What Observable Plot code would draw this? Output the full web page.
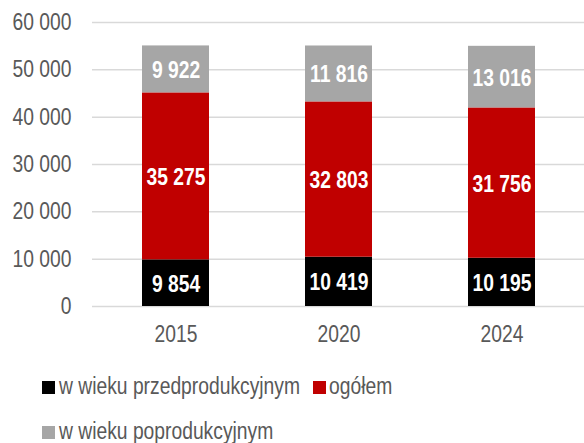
<!DOCTYPE html>
<html>
<head>
<meta charset="utf-8">
<script src="https://cdn.jsdelivr.net/npm/d3@7"></script>
<script src="https://cdn.jsdelivr.net/npm/@observablehq/plot@0.6"></script>
<style>
  html, body { margin: 0; padding: 0; background: #fff; }
  body { width: 584px; height: 443px; overflow: hidden; font-family: "Liberation Sans", Arial, sans-serif; }
  #legend { position: relative; height: 88px; color: #595959; font-size: 23.5px; }
  .sw { position: absolute; width: 13px; height: 13px; }
  .lt { position: absolute; white-space: nowrap; transform: scaleX(0.82); transform-origin: 0 50%; line-height: 1; }
</style>
</head>
<body>
<div id="chart"></div>
<div id="legend"></div>
<script>
const years = ["2015", "2020", "2024"];
const seriesNames = ["w wieku przedprodukcyjnym", "ogółem", "w wieku poprodukcyjnym"];
const przed = [9854, 10419, 10195];
const ogolem = [35275, 32803, 31756];
const popro = [9922, 11816, 13016];
const colors = ["#000000", "#c00000", "#a6a6a6"];
const yTicks = [0, 10000, 20000, 30000, 40000, 50000, 60000];

const seriesValues = [przed, ogolem, popro];
const data = [];
seriesNames.forEach((s, si) => years.forEach((y, yi) => data.push({year: y, series: s, order: si, value: seriesValues[si][yi]})));

const fmt = d3.formatLocale({decimal: ",", thousands: " ", grouping: [3], currency: ["", ""]}).format(",d");
const font = '"Liberation Sans", Arial, sans-serif';

const chart = Plot.plot({
  width: 584,
  height: 355,
  marginTop: 22,
  marginBottom: 49,
  marginLeft: 92,
  marginRight: 0,
  style: {fontFamily: font, fontSize: "23.5px", color: "#595959", background: "#fff"},
  x: {domain: years, paddingInner: 0.59, paddingOuter: 0.3, align: 0.5, label: null, tickSize: 0, tickPadding: 19},
  y: {domain: [0, 60000], ticks: yTicks, tickFormat: fmt, label: null, tickSize: 0, tickPadding: 21},
  color: {domain: seriesNames, range: colors},
  marks: [
    Plot.ruleY(yTicks, {stroke: "#d9d9d9", strokeWidth: 1.5}),
    Plot.barY(data, Plot.stackY({x: "year", y: "value", fill: "series", order: "order"})),
    Plot.text(data, Plot.stackY({x: "year", y: "value", z: "series", order: "order", text: d => fmt(d.value), fill: "white", fontWeight: "bold", fontSize: 23.5, dy: 1})),
  ]
});
document.getElementById("chart").appendChild(chart);

// emulate a narrow typeface by compressing each text horizontally
chart.querySelectorAll("text").forEach(t => {
  const len = t.getComputedTextLength();
  if (len > 0) {
    t.setAttribute("textLength", (len * 0.82).toFixed(2));
    t.setAttribute("lengthAdjust", "spacingAndGlyphs");
  }
});

const legend = document.getElementById("legend");
// [swatch left, text left, row center y within legend]
const positions = [[42, 59, 32], [313, 329, 32], [42, 59, 77]];
seriesNames.forEach((s, i) => {
  const [sx, tx, cy] = positions[i];
  const sw = document.createElement("div");
  sw.className = "sw";
  sw.style.background = colors[i];
  sw.style.left = sx + "px";
  sw.style.top = (cy - 6.5) + "px";
  const t = document.createElement("div");
  t.className = "lt";
  t.textContent = s;
  t.style.left = tx + "px";
  t.style.top = (cy - 12.5) + "px";
  legend.appendChild(sw);
  legend.appendChild(t);
});
</script>
</body>
</html>
